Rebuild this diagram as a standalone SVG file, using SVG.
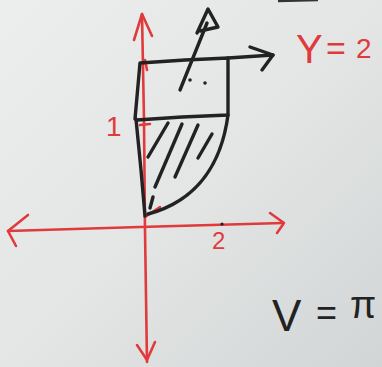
<svg xmlns="http://www.w3.org/2000/svg" width="382" height="367" viewBox="0 0 382 367">
<defs>
<linearGradient id="bg" x1="0" y1="0" x2="1" y2="1">
<stop offset="0" stop-color="#eceeed"/>
<stop offset="0.5" stop-color="#e4e6e6"/>
<stop offset="1" stop-color="#d2d5d5"/>
</linearGradient>
<style>
.r{fill:none;stroke:#e03a3c;stroke-width:2.6;stroke-linecap:round;stroke-linejoin:round}
.k{fill:none;stroke:#222222;stroke-width:3.4;stroke-linecap:round;stroke-linejoin:round}
.rt{fill:#e03a3c;font-family:"Liberation Sans",Arial,sans-serif}
.kt{fill:#222222;font-family:"Liberation Sans",Arial,sans-serif}
</style>
</defs>
<rect width="382" height="367" fill="url(#bg)"/>
<path d="M278 1 L318 0" stroke="#333" stroke-width="2.5" fill="none"/>
<g id="axes">
<path class="r" d="M142 14 L144 120 L145 230 L147 362"/>
<path class="r" d="M134 40 L142 14 L152 36"/>
<path class="r" d="M137 345 L147 360 L155 342"/>
<path class="r" d="M8 231 L140 227 L283 223"/>
<path class="r" d="M28 215 L8 231 L16 246"/>
<path class="r" d="M270 213 L284 223 L277 233"/>
<path class="r" d="M140 125 L150 124"/>
<path class="r" d="M145 60 L147 70"/>
<path class="r" d="M145 217 L160 207"/>
</g>
<g id="region">
<path class="k" d="M140 63 L185 60 L228 58 L228 115 L182 117 L137 120 L135 119 L140 63"/>
<path class="k" d="M136 119 L141 170 L145 216"/>
<path class="k" d="M228 115 C222 160 200 200 148 214"/>
<path class="k" d="M168 123 L148 157"/>
<path class="k" d="M182 124 L155 187"/>
<path class="k" d="M198 125 L175 177"/>
<path class="k" d="M212 134 L198 158"/>
<path class="k" d="M153 197 L150 208"/>
</g>
<g id="arrows">
<path class="k" d="M228 58 L273 55"/>
<path class="k" d="M250 47 L273 55 L262 70"/>
<path class="k" d="M180 90 L207 23"/>
<path class="k" d="M197 33 L208 9 L218 27 L200 31"/>
<circle cx="190" cy="80" r="1.8" fill="#222"/>
<circle cx="205" cy="83" r="1.8" fill="#222"/>
<circle cx="222" cy="224" r="1.6" fill="#222"/>
</g>
<g id="labels">
<text class="rt" x="106" y="136" font-size="28">1</text>
<text class="rt" x="212" y="249" font-size="24">2</text>
<text class="rt" x="296" y="63" font-size="40">Y</text>
<text class="rt" x="326" y="60" font-size="34">=</text>
<text class="rt" x="356" y="58" font-size="28">2</text>
<text class="kt" x="272" y="331" font-size="44">V</text>
<text class="kt" x="316" y="325" font-size="36">=</text>
<text class="kt" x="350" y="318" font-size="38">π</text>
</g>
</svg>
